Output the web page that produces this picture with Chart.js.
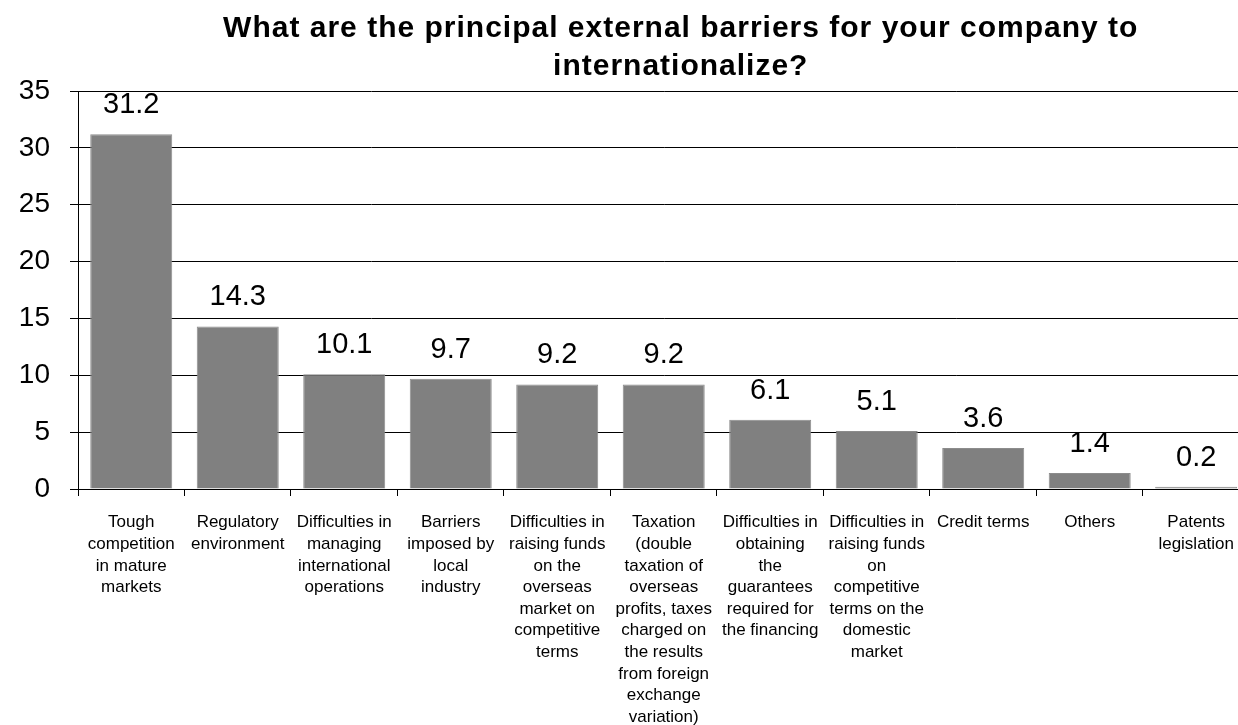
<!DOCTYPE html>
<html>
<head>
<meta charset="utf-8">
<script src="https://cdn.jsdelivr.net/npm/chart.js@4"></script>
<style>
  html, body { margin: 0; padding: 0; background: #fff; overflow: hidden; }
  #wrap { width: 1250px; height: 725px; }
</style>
</head>
<body>
<div id="wrap"><canvas id="chart" width="1250" height="725"></canvas></div>
<script>
const titleLines = ["What are the principal external barriers for your company to", "internationalize?"];

const categories = [
  ["Tough", "competition", "in mature", "markets"],
  ["Regulatory", "environment"],
  ["Difficulties in", "managing", "international", "operations"],
  ["Barriers", "imposed by", "local", "industry"],
  ["Difficulties in", "raising funds", "on the", "overseas", "market on", "competitive", "terms"],
  ["Taxation", "(double", "taxation of", "overseas", "profits, taxes", "charged on", "the results", "from foreign", "exchange", "variation)"],
  ["Difficulties in", "obtaining", "the", "guarantees", "required for", "the financing"],
  ["Difficulties in", "raising funds", "on", "competitive", "terms on the", "domestic", "market"],
  ["Credit terms"],
  ["Others"],
  ["Patents", "legislation"]
];

const values = [31.2, 14.3, 10.1, 9.7, 9.2, 9.2, 6.1, 5.1, 3.6, 1.4, 0.2];

const yTicks = [0, 5, 10, 15, 20, 25, 30, 35];

const FONT = "'Liberation Sans', Arial, sans-serif";

// titulo centrado sobre el area del grafico
const titlePlugin = {
  id: "titlePlugin",
  afterDraw(chart) {
    const ctx = chart.ctx;
    const area = chart.chartArea;
    const cx = (area.left + area.right) / 2 + 17;
    ctx.save();
    ctx.fillStyle = "#000";
    ctx.font = "bold 30px " + FONT;
    if ("letterSpacing" in ctx) ctx.letterSpacing = "1px";
    ctx.textAlign = "center";
    ctx.textBaseline = "alphabetic";
    ctx.fillText(titleLines[0], cx, 37);
    ctx.fillText(titleLines[1], cx, 75);
    ctx.restore();
  }
};

// etiquetas de valor encima de cada barra
const valueLabels = {
  id: "valueLabels",
  afterDatasetsDraw(chart) {
    const ctx = chart.ctx;
    const meta = chart.getDatasetMeta(0);
    ctx.save();
    ctx.fillStyle = "#000";
    ctx.font = "29px " + FONT;
    ctx.textAlign = "center";
    ctx.textBaseline = "middle";
    meta.data.forEach((bar, i) => {
      ctx.fillText(values[i].toFixed(1), bar.x, bar.y - 29);
    });
    ctx.restore();
  }
};

const ctx = document.getElementById("chart").getContext("2d");
new Chart(ctx, {
  type: "bar",
  data: {
    labels: categories,
    datasets: [{
      data: values,
      backgroundColor: "#808080",
      borderColor: "#8c8c8c",
      borderWidth: 1,
      barPercentage: 0.77,
      categoryPercentage: 1.0
    }]
  },
  options: {
    responsive: false,
    animation: false,
    layout: { padding: { top: 91, right: 0, left: 0, bottom: 0 } },
    plugins: {
      legend: { display: false },
      title: { display: false },
      tooltip: { enabled: false }
    },
    scales: {
      x: {
        offset: true,
        afterFit: (scale) => { scale.height = 236; },
        grid: {
          offset: true,
          drawOnChartArea: false,
          drawTicks: true,
          tickLength: 7,
          color: "#000",
          lineWidth: 1
        },
        border: { color: "#000", width: 1 },
        ticks: {
          autoSkip: false,
          maxRotation: 0,
          minRotation: 0,
          padding: 16,
          color: "#000",
          font: { family: FONT, size: 17, lineHeight: 1.27 }
        }
      },
      y: {
        min: 0,
        max: 35,
        afterFit: (scale) => { scale.width = 78; },
        afterBuildTicks: (scale) => { scale.ticks = yTicks.map(v => ({ value: v })); },
        grid: {
          color: "#000",
          lineWidth: 1,
          tickLength: 8
        },
        border: { color: "#000", width: 1 },
        ticks: {
          padding: 20,
          color: "#000",
          font: { family: FONT, size: 28 }
        }
      }
    }
  },
  plugins: [titlePlugin, valueLabels]
});
</script>
</body>
</html>
